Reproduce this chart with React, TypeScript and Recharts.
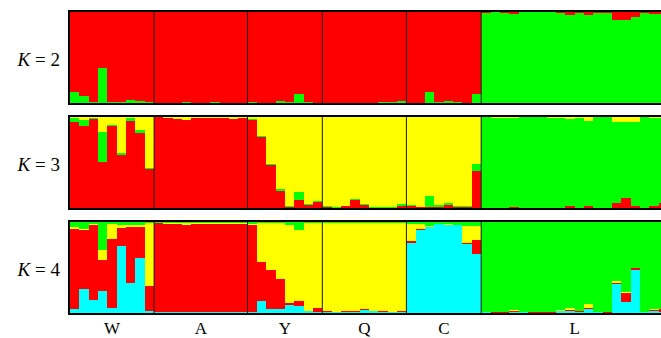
import { BarChart, Bar, XAxis, YAxis, ReferenceLine } from "recharts";

// populations and number of individuals in each
const groups = ["W", "A", "Y", "Q", "C", "L"];
const groupSizes = [9, 10, 8, 9, 8, 20];

// K = 2 (bottom -> top: green, red)
const k2Green = [
  0.12, 0.08, 0.01, 0.38, 0.01, 0.01, 0.03, 0.025, 0.01,
  0.005, 0.005, 0.005, 0.01, 0.005, 0.005, 0.008, 0.005, 0.005, 0.005,
  0.01, 0.005, 0.005, 0.025, 0.01, 0.095, 0.015, 0.005,
  0.005, 0.005, 0.005, 0.005, 0.005, 0.005, 0.015, 0.015, 0.025,
  0.005, 0.005, 0.12, 0.015, 0.025, 0.015, 0.005, 0.1,
  0.993, 0.995, 0.99, 0.98, 0.995, 0.995, 0.995, 0.995, 0.99, 0.965,
  0.985, 0.97, 0.985, 0.993, 0.91, 0.913, 0.95, 0.985, 0.98, 0.975,
];
const k2Red = [
  0.88, 0.92, 0.99, 0.62, 0.99, 0.99, 0.97, 0.975, 0.99,
  0.995, 0.995, 0.995, 0.99, 0.995, 0.995, 0.992, 0.995, 0.995, 0.995,
  0.99, 0.995, 0.995, 0.975, 0.99, 0.905, 0.985, 0.995,
  0.995, 0.995, 0.995, 0.995, 0.995, 0.995, 0.985, 0.985, 0.975,
  0.995, 0.995, 0.88, 0.985, 0.975, 0.985, 0.995, 0.9,
  0.007, 0.005, 0.01, 0.02, 0.005, 0.005, 0.005, 0.005, 0.01, 0.035,
  0.015, 0.03, 0.015, 0.007, 0.09, 0.087, 0.05, 0.015, 0.02, 0.025,
];

// K = 3 (bottom -> top: red, green, yellow)
const k3Red = [
  0.94, 0.9, 0.98, 0.51, 0.9, 0.587, 0.955, 0.826, 0.43,
  0.995, 0.985, 0.975, 0.965, 0.99, 0.99, 0.99, 0.99, 0.98, 0.99,
  0.97, 0.78, 0.47, 0.185, 0.01, 0.09, 0.03, 0.065,
  0.007, 0.004, 0.02, 0.09, 0.03, 0.005, 0.005, 0.005, 0.025,
  0.025, 0.01, 0.01, 0.01, 0.03, 0.01, 0.01, 0.41,
  0.005, 0.005, 0.005, 0.01, 0.005, 0.005, 0.005, 0.005, 0.005, 0.025,
  0.005, 0.018, 0.005, 0.005, 0.05, 0.11, 0.025, 0.005, 0.025, 0.05,
];
const k3Green = [
  0.05, 0.063, 0.01, 0.325, 0.015, 0.015, 0.03, 0.03, 0.01,
  0.003, 0.003, 0.003, 0.003, 0.003, 0.003, 0.003, 0.003, 0.003, 0.003,
  0.005, 0.01, 0.01, 0.02, 0.01, 0.09, 0.015, 0.008,
  0.01, 0.004, 0.005, 0.01, 0.015, 0.005, 0.01, 0.005, 0.02,
  0.005, 0.005, 0.12, 0.02, 0.03, 0.015, 0.01, 0.07,
  0.99, 0.985, 0.985, 0.98, 0.99, 0.99, 0.99, 0.985, 0.985, 0.955,
  0.985, 0.934, 0.99, 0.99, 0.89, 0.84, 0.915, 0.99, 0.965, 0.94,
];
const k3Yellow = [
  0.01, 0.037, 0.01, 0.165, 0.085, 0.398, 0.015, 0.144, 0.56,
  0.002, 0.012, 0.022, 0.032, 0.007, 0.007, 0.007, 0.007, 0.017, 0.007,
  0.025, 0.21, 0.52, 0.795, 0.98, 0.82, 0.955, 0.927,
  0.983, 0.992, 0.975, 0.9, 0.955, 0.99, 0.985, 0.99, 0.955,
  0.97, 0.985, 0.87, 0.97, 0.94, 0.975, 0.98, 0.52,
  0.005, 0.01, 0.01, 0.01, 0.005, 0.005, 0.005, 0.01, 0.01, 0.02,
  0.01, 0.048, 0.005, 0.005, 0.06, 0.05, 0.06, 0.005, 0.01, 0.01,
];

// K = 4 (bottom -> top: cyan, red, yellow, green)
const k4Cyan = [
  0.047, 0.265, 0.145, 0.244, 0.05, 0.738, 0.327, 0.607, 0.025,
  0.01, 0.01, 0.008, 0.01, 0.012, 0.01, 0.008, 0.01, 0.015, 0.01,
  0.015, 0.135, 0.044, 0.044, 0.09, 0.073, 0.018, 0.011,
  0.011, 0.011, 0.011, 0.011, 0.033, 0.018, 0.015, 0.011, 0.011,
  0.764, 0.916, 0.942, 0.975, 0.967, 0.964, 0.76, 0.644,
  0.007, 0.004, 0.004, 0.015, 0.007, 0.004, 0.004, 0.004, 0.018, 0.018,
  0.011, 0.04, 0.007, 0.004, 0.316, 0.116, 0.473, 0.007, 0.018, 0.011,
];
const k4Red = [
  0.88, 0.644, 0.825, 0.338, 0.767, 0.196, 0.62, 0.335, 0.269,
  0.975, 0.965, 0.97, 0.957, 0.966, 0.972, 0.974, 0.968, 0.96, 0.972,
  0.956, 0.43, 0.426, 0.335, 0.018, 0.062, 0.007, 0.04,
  0.007, 0.004, 0.007, 0.011, 0.007, 0.004, 0.004, 0.004, 0.007,
  0.025, 0.007, 0.007, 0.004, 0.004, 0.004, 0.007, 0.16,
  0.004, 0.004, 0.004, 0.011, 0.004, 0.004, 0.004, 0.007, 0.007, 0.011,
  0.007, 0.011, 0.004, 0.004, 0.018, 0.1, 0.018, 0.004, 0.018, 0.03,
];
const k4Yellow = [
  0.015, 0.018, 0.007, 0.105, 0.16, 0.036, 0.015, 0.03, 0.69,
  0.008, 0.018, 0.015, 0.026, 0.015, 0.011, 0.011, 0.015, 0.018, 0.011,
  0.011, 0.42, 0.523, 0.61, 0.862, 0.778, 0.96, 0.942,
  0.974, 0.978, 0.975, 0.968, 0.952, 0.97, 0.974, 0.978, 0.971,
  0.189, 0.055, 0.007, 0.003, 0.004, 0.004, 0.193, 0.149,
  0.004, 0, 0.004, 0.011, 0, 0, 0.004, 0.004, 0.011, 0.03,
  0.004, 0.05, 0.004, 0, 0.022, 0.018, 0.007, 0, 0.004, 0.004,
];
const k4Green = [
  0.058, 0.073, 0.023, 0.313, 0.023, 0.03, 0.038, 0.028, 0.016,
  0.007, 0.007, 0.007, 0.007, 0.007, 0.007, 0.007, 0.007, 0.007, 0.007,
  0.018, 0.015, 0.007, 0.011, 0.03, 0.087, 0.015, 0.007,
  0.008, 0.007, 0.007, 0.01, 0.008, 0.008, 0.007, 0.007, 0.011,
  0.022, 0.022, 0.044, 0.018, 0.025, 0.028, 0.04, 0.047,
  0.985, 0.992, 0.988, 0.963, 0.989, 0.992, 0.988, 0.985, 0.964, 0.941,
  0.978, 0.899, 0.985, 0.992, 0.644, 0.766, 0.502, 0.989, 0.96, 0.955,
];

const RED = "#ff0000";
const GREEN = "#00ff00";
const YELLOW = "#ffff00";
const CYAN = "#00ffff";

// individual ids, e.g. W1..W9, A1..A10
const ids: string[] = [];
const boundaryIds: string[] = [];
groups.forEach((g, gi) => {
  for (let i = 0; i < groupSizes[gi]; i++) {
    const id = g + (i + 1);
    if (i === 0 && gi > 0) boundaryIds.push(id);
    ids.push(id);
  }
});

const PLOT_LEFT = 70;
const BAR_W = 9.345;
const CHART_W = 700;
const PLOT_H = 91;
const plotRight = PLOT_LEFT + ids.length * BAR_W;

type Series = { key: string; values: number[]; color: string };

// snap each segment to whole pixels so neighbouring bars meet without seams
const BandRect = (p: any) => {
  if (!p.height || p.height <= 0) return <g />;
  const x0 = Math.round(p.x);
  const x1 = Math.round(p.x + BAR_W);
  const y0 = Math.round(p.y);
  const y1 = Math.round(p.y + p.height);
  if (y1 <= y0) return <g />;
  return <rect x={x0} y={y0} width={x1 - x0} height={y1 - y0} fill={p.fill} shapeRendering="crispEdges" />;
};

function Panel({ top, k, series }: { top: number; k: number; series: Series[] }) {
  const rows = ids.map((id, i) => {
    const row: any = { id };
    series.forEach((s) => (row[s.key] = s.values[i]));
    return row;
  });
  return (
    <>
      <div style={{ position: "absolute", left: 0, top: top + 37, width: 60, textAlign: "right", fontSize: 19, lineHeight: "22px" }}>
        <i>K</i> = {k}
      </div>
      <div style={{ position: "absolute", left: 0, top }}>
        <BarChart
          width={CHART_W}
          height={PLOT_H}
          data={rows}
          margin={{ top: 0, right: CHART_W - plotRight, bottom: 0, left: PLOT_LEFT }}
          barCategoryGap={0}
          barGap={0}
        >
          <XAxis dataKey="id" hide />
          <YAxis hide domain={[0, 1]} allowDataOverflow />
          {series.map((s) => (
            <Bar
              key={s.key}
              dataKey={s.key}
              stackId="s"
              fill={s.color}
              shape={BandRect}
              isAnimationActive={false}
            />
          ))}
          {boundaryIds.map((id) => (
            <ReferenceLine key={id} x={id} position="start" stroke="#1a1a1a" strokeWidth={1} />
          ))}
        </BarChart>
      </div>
      <div
        style={{
          position: "absolute",
          left: PLOT_LEFT - 2,
          top: top - 2,
          width: CHART_W,
          height: PLOT_H + 4,
          border: "2px solid #000",
          boxSizing: "border-box",
          pointerEvents: "none",
        }}
      />
    </>
  );
}

export default function App() {
  const tops = [12, 117, 222];
  let start = 0;
  const labels = groups.map((g, gi) => {
    const cx = PLOT_LEFT + (start + groupSizes[gi] / 2) * BAR_W;
    start += groupSizes[gi];
    return { g, cx };
  });
  return (
    <div
      style={{
        position: "absolute",
        left: 0,
        top: 0,
        width: 661,
        height: 338,
        overflow: "hidden",
        background: "#fff",
        fontFamily: "'Liberation Serif', 'Times New Roman', serif",
        color: "#000",
      }}
    >
      <Panel
        top={tops[0]}
        k={2}
        series={[
          { key: "green", values: k2Green, color: GREEN },
          { key: "red", values: k2Red, color: RED },
        ]}
      />
      <Panel
        top={tops[1]}
        k={3}
        series={[
          { key: "red", values: k3Red, color: RED },
          { key: "green", values: k3Green, color: GREEN },
          { key: "yellow", values: k3Yellow, color: YELLOW },
        ]}
      />
      <Panel
        top={tops[2]}
        k={4}
        series={[
          { key: "cyan", values: k4Cyan, color: CYAN },
          { key: "red", values: k4Red, color: RED },
          { key: "yellow", values: k4Yellow, color: YELLOW },
          { key: "green", values: k4Green, color: GREEN },
        ]}
      />
      {labels.map((l) => (
        <div
          key={l.g}
          style={{ position: "absolute", left: l.cx - 20, width: 40, top: 319, textAlign: "center", fontSize: 17, lineHeight: "20px" }}
        >
          {l.g}
        </div>
      ))}
    </div>
  );
}
